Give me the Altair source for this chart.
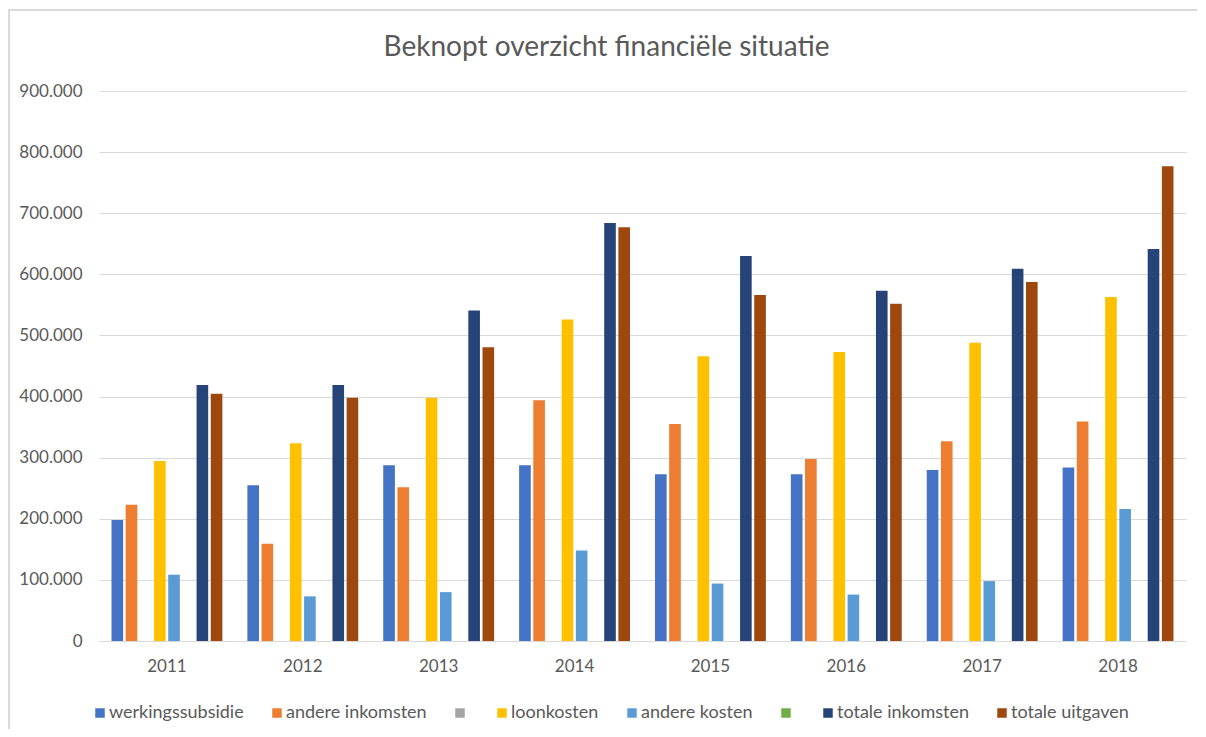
import altair as alt
import pandas as pd

years = ["2011", "2012", "2013", "2014", "2015", "2016", "2017", "2018"]
series = ["werkingssubsidie", "andere inkomsten", " ", "loonkosten",
          "andere kosten", "  ", "totale inkomsten", "totale uitgaven"]
colors = ["#4472C4", "#ED7D31", "#A5A5A5", "#FFC000",
          "#5B9BD5", "#70AD47", "#264478", "#9E480E"]

werkingssubsidie = [198000, 255000, 287500, 287500, 273000, 273000, 280000, 284000]
andere_inkomsten = [223000, 159000, 251500, 394000, 355000, 298000, 327000, 359000]
grijs = [0, 0, 0, 0, 0, 0, 0, 0]
loonkosten = [294500, 323500, 398000, 526000, 466000, 473000, 488000, 563000]
andere_kosten = [108500, 73000, 80000, 148000, 94000, 76000, 98000, 216000]
groen = [0, 0, 0, 0, 0, 0, 0, 0]
totale_inkomsten = [419000, 419000, 541000, 684000, 630000, 573000, 609000, 641500]
totale_uitgaven = [404700, 398000, 480500, 677000, 566000, 552000, 587500, 777000]

values = [werkingssubsidie, andere_inkomsten, grijs, loonkosten,
          andere_kosten, groen, totale_inkomsten, totale_uitgaven]

rows = []
for s, vals in zip(series, values):
    for y, v in zip(years, vals):
        rows.append({"jaar": y, "reeks": s, "waarde": v})
df = pd.DataFrame(rows)

FONT = "Lato"
GREY = "#595959"
BORDER = "#D9D9D9"

bars = alt.Chart(df).mark_bar().encode(
    x=alt.X("jaar:N", sort=years,
            scale=alt.Scale(paddingInner=0.184, paddingOuter=0.092),
            axis=alt.Axis(title=None, labelAngle=0, ticks=False,
                          domainColor="#D9D9D9", domainWidth=1,
                          labelColor=GREY, labelFontSize=17, labelFont=FONT,
                          labelPadding=17)),
    xOffset=alt.XOffset("reeks:N", sort=series,
                        scale=alt.Scale(domain=series, paddingInner=0.18)),
    y=alt.Y("waarde:Q", scale=alt.Scale(domain=[0, 900000]),
            axis=alt.Axis(title=None, values=[0, 100000, 200000, 300000, 400000,
                                              500000, 600000, 700000, 800000, 900000],
                          labelExpr="replace(format(datum.value, ','), ',', '.')",
                          domain=False, ticks=False, gridColor="#D9D9D9",
                          gridWidth=1, labelColor=GREY, labelFontSize=17,
                          labelFont=FONT, labelPadding=17,
                          minExtent=90, maxExtent=90)),
    color=alt.Color("reeks:N", sort=series,
                    scale=alt.Scale(domain=series, range=colors),
                    legend=alt.Legend(title=None, orient="none",
                                      legendX=-8, legendY=613,
                                      direction="horizontal",
                                      symbolType="square", symbolSize=90,
                                      symbolStrokeWidth=0,
                                      labelExpr="trim(datum.label)",
                                      labelFontSize=18, labelFont=FONT,
                                      labelColor=GREY, columnPadding=24,
                                      labelOffset=0)),
)

frame_src = pd.DataFrame({"k": [0]})
left_edge = alt.Chart(frame_src).mark_rule(color=BORDER, strokeWidth=2).encode(
    x=alt.value(-90), y=alt.value(-81), y2=alt.value(650))
top_edge = alt.Chart(frame_src).mark_rule(color=BORDER, strokeWidth=2).encode(
    x=alt.value(-91), x2=alt.value(1098), y=alt.value(-81))

chart = alt.layer(bars, left_edge, top_edge).properties(
    width=1087,
    height=550,
    title=alt.TitleParams("Beknopt overzicht financiële situatie",
                          fontSize=28, font=FONT, fontWeight="normal",
                          color=GREY, anchor="middle", frame="group",
                          dx=-36, offset=-53),
    autosize=alt.AutoSizeParams(type="none"),
    padding={"left": 91, "top": 83, "right": 12, "bottom": 88},
).configure_view(stroke=None)

chart.save("out.html", embed_options={"renderer": "svg", "actions": False})
